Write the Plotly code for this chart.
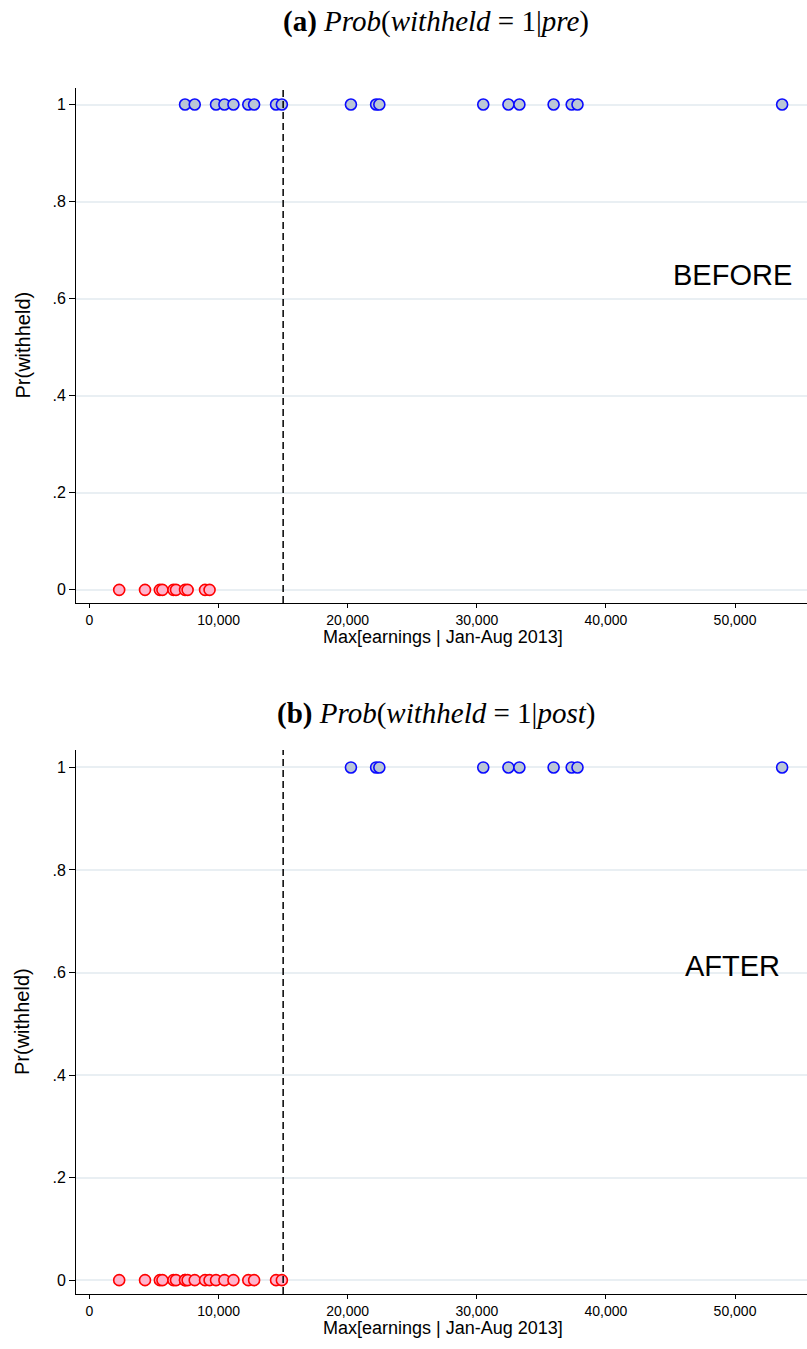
import plotly.graph_objects as go

W, H = 807, 1349

# ---- data (earnings in dollars) ----
pre_red_x = [2300, 4300, 5450, 5650, 6500, 6700, 7400, 7600, 8950, 9300]
pre_blue_x = [7400, 8150, 9800, 10450, 11150, 12300, 12750, 14450, 14900,
              20250, 22200, 22450, 30500, 32450, 33300, 35950, 37350, 37800, 53650]
post_red_x = [2300, 4300, 5450, 5650, 6500, 6700, 7400, 7400, 7600, 8150, 8950,
              9300, 9800, 10450, 11150, 12300, 12750, 14450, 14900]
post_blue_x = [20250, 22200, 22450, 30500, 32450, 33300, 35950, 37350, 37800, 53650]
threshold = 15000

x_ticks = [0, 10000, 20000, 30000, 40000, 50000]
x_tick_labels = ["0", "10,000", "20,000", "30,000", "40,000", "50,000"]
y_ticks = [0, 0.2, 0.4, 0.6, 0.8, 1]
y_tick_labels = ["0", ".2", ".4", ".6", ".8", "1"]

titles = ["<b>(a)</b> <i>Prob</i>(<i>withheld</i> = 1|<i>pre</i>)",
          "<b>(b)</b> <i>Prob</i>(<i>withheld</i> = 1|<i>post</i>)"]
labels = ["BEFORE", "AFTER"]

# ---- styling ----
RED_FILL, RED_LINE = "#ffb3cb", "#ff0000"
BLUE_FILL, BLUE_LINE = "#bac6d6", "#0a0aff"
GRID = "#e9eff3"
SANS = "Liberation Sans, Arial, sans-serif"
SERIF = "Liberation Serif, Times New Roman, serif"

def py(px):
    return 1 - px / H

panels = [
    dict(top=88, bottom=603, red=pre_red_x, blue=pre_blue_x, title_y=22, lab_y=275),
    dict(top=750, bottom=1294, red=post_red_x, blue=post_blue_x, title_y=713, lab_y=966),
]

fig = go.Figure()
shapes, annotations = [], []
xr = [(76 - 89.5) / 0.01291, (807 - 89.5) / 0.01291]

for i, p in enumerate(panels):
    n = "" if i == 0 else str(i + 1)
    xa, ya = "x" + n, "y" + n
    for xs, fill, line in [(p["red"], RED_FILL, RED_LINE), (p["blue"], BLUE_FILL, BLUE_LINE)]:
        yv = 0 if fill == RED_FILL else 1
        fig.add_trace(go.Scatter(
            x=xs, y=[yv] * len(xs), mode="markers", xaxis=xa, yaxis=ya,
            marker=dict(size=11, color=fill, line=dict(color=line, width=1.6)),
            showlegend=False, hoverinfo="x"))
    dom_y = [py(p["bottom"]), py(p["top"])]
    axis_common = dict(showline=True, linecolor="black", linewidth=1, ticks="outside",
                       tickcolor="black", tickwidth=1, zeroline=False)
    fig.layout["xaxis" + n] = dict(
        domain=[76 / W, 1.0], range=xr, anchor=ya, tickvals=x_ticks, ticktext=x_tick_labels,
        showgrid=False, ticklen=4, tickfont=dict(family=SANS, size=14, color="black"),
        **axis_common)
    fig.layout["yaxis" + n] = dict(
        domain=dom_y, range=[-0.027, 1.034], anchor=xa, tickvals=y_ticks, ticktext=y_tick_labels,
        showgrid=True, gridcolor=GRID, gridwidth=1.5, ticklen=6,
        tickfont=dict(family=SANS, size=16, color="black"), **axis_common)
    shapes.append(dict(type="line", xref=xa, yref=ya + " domain", x0=threshold, x1=threshold,
                       y0=0, y1=1, line=dict(color="black", width=1.5, dash="7px,4px")))
    annotations += [
        dict(text=titles[i], x=436 / W, y=py(p["title_y"]), xref="paper", yref="paper",
             showarrow=False, font=dict(family=SERIF, size=29, color="black"),
             xanchor="center", yanchor="middle"),
        dict(text="Max[earnings | Jan-Aug 2013]", x=443 / W, y=py(p["bottom"] + 34),
             xref="paper", yref="paper", showarrow=False,
             font=dict(family=SANS, size=18, color="black"), xanchor="center", yanchor="middle"),
        dict(text="Pr(withheld)", x=22 / W, y=(dom_y[0] + dom_y[1]) / 2, xref="paper",
             yref="paper", showarrow=False, textangle=-90,
             font=dict(family=SANS, size=20, color="black"), xanchor="center", yanchor="middle"),
        dict(text=labels[i], x=732 / W, y=py(p["lab_y"]), xref="paper", yref="paper",
             showarrow=False, font=dict(family=SANS, size=29, color="black"),
             xanchor="center", yanchor="middle"),
    ]

fig.update_layout(width=W, height=H, margin=dict(l=0, r=0, t=0, b=0),
                  paper_bgcolor="white", plot_bgcolor="white",
                  shapes=shapes, annotations=annotations)
fig.write_html("out.html", config={"displayModeBar": False},
               post_script="document.body.style.margin='0';")
